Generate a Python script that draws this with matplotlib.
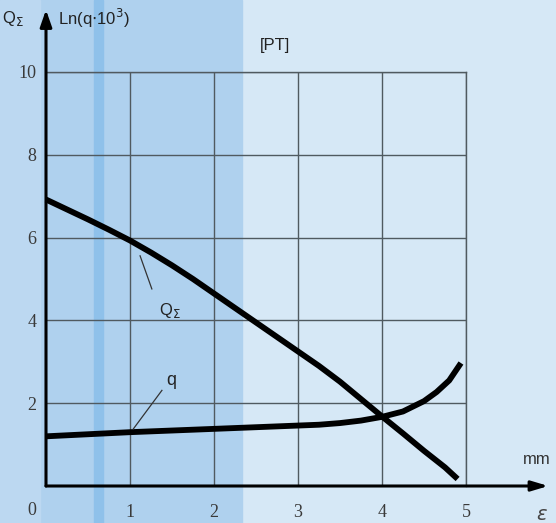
import matplotlib.pyplot as plt
from matplotlib.patches import Rectangle

# data
eps_Q = [0, 0.25, 0.5, 0.75, 1, 1.25, 1.5, 1.75, 2, 2.25, 2.5, 2.75, 3,
         3.25, 3.5, 3.75, 4, 4.25, 4.5, 4.75, 4.9]
Q_sum = [6.92, 6.68, 6.44, 6.19, 5.93, 5.64, 5.33, 5.0, 4.65, 4.3, 3.95,
         3.6, 3.25, 2.9, 2.52, 2.1, 1.68, 1.27, 0.85, 0.45, 0.17]

eps_q = [0, 0.5, 1, 1.5, 2, 2.5, 3, 3.25, 3.5, 3.75, 4, 4.25, 4.5, 4.65,
         4.8, 4.94]
ln_q = [1.2, 1.25, 1.3, 1.34, 1.38, 1.42, 1.46, 1.48, 1.52, 1.58, 1.67,
        1.8, 2.05, 2.27, 2.55, 2.97]

xticks = [1, 2, 3, 4, 5]
yticks = [2, 4, 6, 8, 10]

W, H = 556, 523
fig = plt.figure(figsize=(W / 100, H / 100), dpi=100)

# background
bg = fig.add_axes([0, 0, 1, 1])
bg.set_xlim(0, W)
bg.set_ylim(H, 0)
bg.axis("off")
bg.add_patch(Rectangle((0, 0), W, H, color="#d6e8f6"))
bg.add_patch(Rectangle((0, 0), 242, H, color="#afd1ee"))
bg.add_patch(Rectangle((0, 0), 40, H, color="#bcd8f1"))
bg.add_patch(Rectangle((94, 0), 9, H, color="#8fc1ea"))

x0, x5, y0, y10 = 46, 466, 486, 72
ax = fig.add_axes([x0 / W, (H - y0) / H, (x5 - x0) / W, (y0 - y10) / H])
ax.patch.set_alpha(0)
ax.set_xlim(0, 5)
ax.set_ylim(0, 10)

ax.grid(True, color="#505a60", lw=1.0)
ax.set_axisbelow(True)
for s in ["top", "right"]:
    ax.spines[s].set_color("#505a60")
    ax.spines[s].set_linewidth(1.0)
for s in ["left", "bottom"]:
    ax.spines[s].set_visible(False)

ax.set_xticks(xticks)
ax.set_yticks(yticks)
ax.tick_params(length=0, labelsize=13, colors="#3a3a3a")
ax.set_xticklabels([str(v) for v in xticks], family="Liberation Serif")
ax.set_yticklabels([str(v) for v in yticks], family="Liberation Serif")
ax.tick_params(axis="x", pad=13)
ax.tick_params(axis="y", pad=7)
ax.text(-0.17, -0.58, "0", family="Liberation Serif", fontsize=13, color="#3a3a3a",
        ha="center", va="center")

# axis arrows
ax.annotate("", xy=(0, 11.5), xytext=(0, 0), annotation_clip=False,
            arrowprops=dict(arrowstyle="-|>,head_length=1.0,head_width=0.35",
                            color="black", lw=2.2, shrinkA=0, shrinkB=0))
ax.annotate("", xy=(5.98, 0), xytext=(0, 0), annotation_clip=False,
            arrowprops=dict(arrowstyle="-|>,head_length=1.0,head_width=0.3",
                            color="black", lw=2.2, shrinkA=0, shrinkB=0))

# curves
ax.plot(eps_Q, Q_sum, color="black", lw=4.2, solid_capstyle="butt",
        solid_joinstyle="round", clip_on=False)
ax.plot(eps_q, ln_q, color="black", lw=4.2, solid_capstyle="butt",
        solid_joinstyle="round", clip_on=False)

# leader lines and labels
ax.plot([1.12, 1.26], [5.56, 4.76], color="#333333", lw=0.9)
ax.text(1.47, 4.25, r"Q$_\Sigma$", fontsize=12, family="Liberation Sans",
        color="#222222", ha="center", va="center")
ax.plot([1.04, 1.38], [1.38, 2.31], color="#333333", lw=0.9)
ax.text(1.49, 2.55, "q", fontsize=13, family="Liberation Sans",
        color="#222222", ha="center", va="center")

ax.text(-0.4, 11.3, r"Q$_\Sigma$", fontsize=12, family="Liberation Sans",
        color="#222222", ha="center", va="center", clip_on=False)
ax.text(0.14, 11.3, r"Ln(q$\cdot$10$^3$)", fontsize=12, family="Liberation Sans",
        color="#222222", ha="left", va="center", clip_on=False)
ax.text(2.73, 10.65, "[PT]", fontsize=12, family="Liberation Sans",
        color="#222222", ha="center", va="center", clip_on=False)
ax.text(5.84, 0.63, "mm", fontsize=12, family="Liberation Sans",
        color="#333333", ha="center", va="center", clip_on=False)
ax.text(5.9, -0.7, r"$\varepsilon$", fontsize=14, color="#444444",
        ha="center", va="center", clip_on=False)

fig.savefig("out.png", dpi=100)
